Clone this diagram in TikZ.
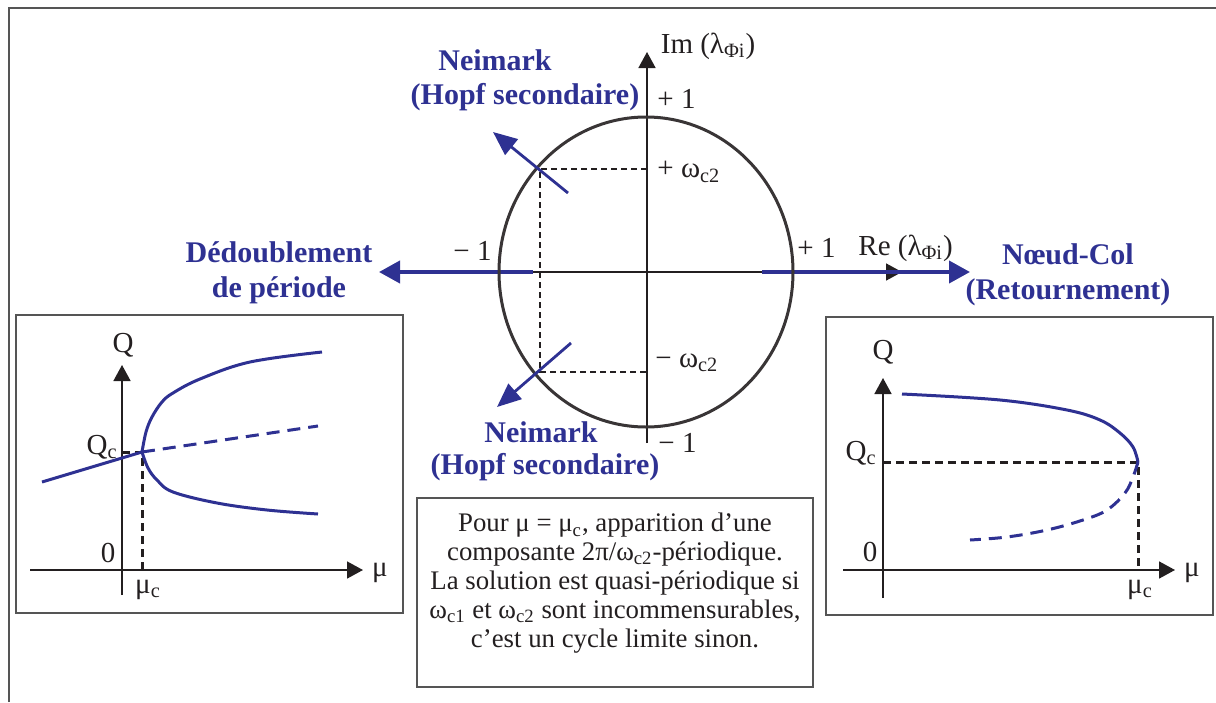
\documentclass[tikz,border=0pt]{standalone}
\usepackage{fontspec}
\setmainfont{Liberation Serif}
\usepackage{tikz}
\usetikzlibrary{arrows.meta,positioning,calc}

\definecolor{bifblue}{RGB}{46,49,146}
\definecolor{inkgray}{RGB}{35,31,32}
\definecolor{framegray}{RGB}{85,85,85}

\tikzset{
  bif/.style={font=\fontsize{15}{17.5}\selectfont\bfseries, text=bifblue, align=center, inner sep=0pt},
  lab/.style={font=\fontsize{14.5}{16}\selectfont, text=inkgray, inner sep=0pt},
  panel/.style={draw=framegray, line width=1pt, rectangle, minimum width=193.5pt, minimum height=149pt},
  axis/.style={draw=inkgray, line width=0.8pt, -{Triangle[length=8pt,width=8.5pt]}},
  bigarrow/.style={draw=bifblue, line width=2pt, -{Triangle[length=10.5pt,width=11pt]}},
  neimarrow/.style={draw=bifblue, line width=1.4pt, -{Triangle[length=12pt,width=10pt]}},
  guide/.style={draw=inkgray, line width=0.6pt, dash pattern=on 3pt off 2pt},
  markline/.style={draw=inkgray, line width=1.5pt, dash pattern=on 4pt off 2.5pt},
  branch/.style={draw=bifblue, line width=1.5pt},
  unstable/.style={draw=bifblue, line width=1.5pt, dash pattern=on 6.5pt off 4pt}
}

\begin{document}
\begin{tikzpicture}[x=0.5pt, y=-0.5pt]
\useasboundingbox (0,0) rectangle (1216,702);

% outer frame
\draw[framegray, line width=0.8pt] (9,702) -- (9,8) -- (1216,8);

% unit circle
\coordinate (O) at (647,272);
\coordinate (imtip) at (647,52);
\coordinate (imfoot) at (647,443);
\coordinate (releft) at (533,272);
\coordinate (retip) at (902,272);
\coordinate (pu) at (540,169);
\coordinate (pl) at (540,372);
\coordinate (qu) at (647,169);
\coordinate (ql) at (647,372);

\draw[axis] (imfoot) -- (imtip);
\draw[axis] (releft) -- (retip);
\draw[guide] (qu) -- (pu) -- (pl) -- (ql);

\coordinate (dstart) at (533,272);
\coordinate (dtip) at (379,272);
\coordinate (nstart) at (762,272);
\coordinate (ntip) at (970,272);
\draw[bigarrow] (dstart) -- (dtip);
\draw[bigarrow] (nstart) -- (ntip);

\draw[inkgray!90, line width=1.5pt] (646,272) ellipse [x radius=147, y radius=155];

\coordinate (hu) at (568,193);
\coordinate (hutip) at (493,132);
\coordinate (hl) at (571,343);
\coordinate (hltip) at (497,407);
\draw[neimarrow] (hu) -- (hutip);
\draw[neimarrow] (hl) -- (hltip);

\node[lab] (imlab) at (708,46) {Im (λ\textsubscript{Φi})};
\node[lab, anchor=west] (ptop) at (657,99) {+ 1};
\node[lab, anchor=west] (wtop) at (657,172) {+ ω\textsubscript{c2}};
\node[lab, anchor=west] (wbot) at (655,363) {− ω\textsubscript{c2}};
\node[lab, anchor=west] (pbot) at (658,443) {− 1};
\node[lab, anchor=east] (pleft) at (492,251) {− 1};
\node[lab, anchor=west] (pright) at (797,248) {+ 1};
\node[lab, anchor=west] (relab) at (858,248) {Re (λ\textsubscript{Φi})};

\node[bif] (neimtop) at (495,60) {Neimark};
\node[bif] (hopftop) at (525,97) {(Hopf secondaire)};
\node[bif] (neimbot) at (541,432) {Neimark};
\node[bif] (hopfbot) at (545,467) {(Hopf secondaire)};
\node[bif] (flip) at (279,273) {Dédoublement\\de période};
\node[bif] (fold) at (1068,275) {Nœud-Col\\(Retournement)};

% note box
\node[draw=framegray, line width=1pt, rectangle, minimum width=198pt, minimum height=94.5pt] (note) at (615,592.5) {};
\node[align=center, text=inkgray, font=\fontsize{13.4}{14.4}\selectfont, inner sep=0pt] (notetext) at (615,583)
  {Pour μ = μ\textsubscript{c}, apparition d’une\\
   composante 2π/ω\textsubscript{c2}-périodique.\\
   La solution est quasi-périodique si\\
   ω\textsubscript{c1} et ω\textsubscript{c2} sont incommensurables,\\
   c’est un cycle limite sinon.};

% left panel: period doubling
\node[panel] (lbox) at (209.5,464) {};
\coordinate (lqfoot) at (122,595);
\coordinate (lqtip) at (122,365);
\coordinate (lmfoot) at (30,570);
\coordinate (lmtip) at (363,570);
\coordinate (lbif) at (142,452);
\coordinate (lqc) at (122,452);
\coordinate (lmc) at (142,570);
\draw[axis] (lqfoot) -- (lqtip);
\draw[axis] (lmfoot) -- (lmtip);
\draw[markline] (lqc) -- (lbif) -- (lmc);
\coordinate (lstart) at (42,482);
\coordinate (lend) at (318,426);
\draw[branch] (lstart) -- (lbif);
\draw[unstable] (lbif) -- (lend);
\draw[branch] plot[smooth, tension=0.6] coordinates {(142,452) (146,432) (152,417) (162,402) (173,393) (200,379) (250,362) (322,352)};
\draw[branch] plot[smooth, tension=0.6] coordinates {(142,452) (148,468) (157,480) (173,492) (217,503) (267,510) (318,514)};
\node[lab] (lq) at (123,345) {Q};
\node[lab, anchor=east] (lqclab) at (118,447) {Q\textsubscript{c}};
\node[lab] (lzero) at (108,553) {0};
\node[lab] (lmu) at (380,573) {μ};
\node[lab] (lmuc) at (148,590) {μ\textsubscript{c}};

% right panel: saddle-node
\node[panel] (rbox) at (1019.5,465.5) {};
\coordinate (rqfoot) at (883,598);
\coordinate (rqtip) at (883,378);
\coordinate (rmfoot) at (843,570);
\coordinate (rmtip) at (1175,570);
\coordinate (rbif) at (1138,462);
\coordinate (rqc) at (883,462);
\coordinate (rmc) at (1138,570);
\draw[axis] (rqfoot) -- (rqtip);
\draw[axis] (rmfoot) -- (rmtip);
\draw[markline] (rqc) -- (rbif) -- (rmc);
\draw[branch] plot[smooth, tension=0.6] coordinates {(902,394) (1000,400) (1067,410) (1100,420) (1120,433) (1133,447) (1138,462)};
\draw[unstable] plot[smooth, tension=0.6] coordinates {(1138,462) (1133,477) (1125,493) (1107,510) (1083,520) (1047,530) (1007,537) (970,540)};
\node[lab] (rq) at (883,352) {Q};
\node[lab, anchor=east] (rqclab) at (877,453) {Q\textsubscript{c}};
\node[lab] (rzero) at (870,552) {0};
\node[lab] (rmu) at (1192,573) {μ};
\node[lab] (rmuc) at (1140,590) {μ\textsubscript{c}};
\end{tikzpicture}
\end{document}
